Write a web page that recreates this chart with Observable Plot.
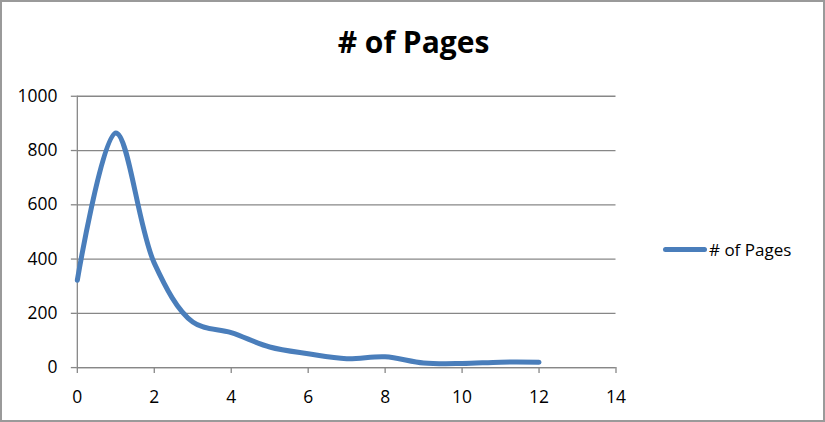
<!DOCTYPE html>
<html>
<head>
<meta charset="utf-8">
<script src="https://cdn.jsdelivr.net/npm/d3@7"></script>
<script src="https://cdn.jsdelivr.net/npm/@observablehq/plot@0.6"></script>
<style>
  html, body { margin: 0; padding: 0; background: #fff; }
  #wrap { position: relative; width: 825px; height: 422px; box-sizing: border-box; border: 2px solid #9a9a9a; overflow: hidden; font-family: "Open Sans", sans-serif; }
  #chart { position: absolute; left: -2px; top: -2px; }
  #title { position: absolute; left: 0; width: 823px; top: 25px; text-align: center; font-weight: bold; font-size: 30px; color: #000; line-height: 1; }
  #legend { position: absolute; left: 661px; top: 236px; font-size: 17px; color: #000; display: flex; align-items: center; }
  #legend .sw { width: 44px; height: 5px; border-radius: 3px; background: #4a7ebb; margin-right: 2px; }
</style>
</head>
<body>
<div id="wrap">
  <div id="chart"></div>
  <div id="title"># of Pages</div>
  <div id="legend"><span class="sw"></span><span># of Pages</span></div>
</div>
<script>
const xValues = [0, 1, 2, 3, 4, 5, 6, 7, 8, 9, 10, 11, 12];
const pages = [322, 865, 385, 168, 129, 76, 51, 33, 40, 17, 15, 20, 20];
const xTicks = [0, 2, 4, 6, 8, 10, 12, 14];
const yTicks = [0, 200, 400, 600, 800, 1000];

const data = xValues.map((x, i) => ({x, y: pages[i]}));
const grid = "#878787";

const chart = Plot.plot({
  width: 825,
  height: 422,
  marginLeft: 77,
  marginRight: 208,
  marginTop: 96,
  marginBottom: 54,
  style: {fontFamily: "Open Sans, sans-serif", fontSize: "17px", color: "#000", background: "transparent"},
  x: {domain: [0, 14], ticks: xTicks, label: null},
  y: {domain: [0, 1000], ticks: yTicks, label: null},
  marks: [
    Plot.gridY(yTicks, {stroke: grid, strokeOpacity: 1, strokeWidth: 1.3}),
    Plot.ruleX([0], {stroke: grid, strokeWidth: 1.3}),
    Plot.axisY({ticks: yTicks, tickFormat: d => String(d), tickSize: 6, tickPadding: 14, stroke: grid, strokeWidth: 1.3, fill: "#000", fontSize: 17.5, label: null}),
    Plot.axisX({ticks: xTicks, tickFormat: d => String(d), tickSize: 6, tickPadding: 17, stroke: grid, strokeWidth: 1.3, fill: "#000", fontSize: 17.5, label: null}),
    Plot.ruleY([0], {stroke: grid, strokeWidth: 1.3}),
    Plot.line(data, {x: "x", y: "y", curve: "catmull-rom", stroke: "#4a7ebb", strokeWidth: 5, strokeLinecap: "round", strokeLinejoin: "round"})
  ]
});
document.getElementById("chart").appendChild(chart);
</script>
</body>
</html>
